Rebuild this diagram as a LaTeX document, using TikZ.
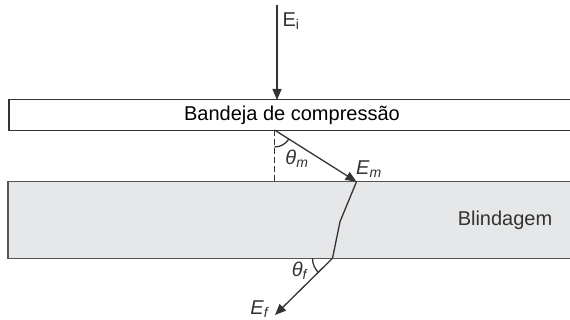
\documentclass[tikz,border=0pt]{standalone}
\usepackage{fontspec}
\setmainfont{Liberation Sans}
\usetikzlibrary{arrows.meta,positioning,backgrounds}
\definecolor{inkgray}{HTML}{333333}
\definecolor{shieldgray}{HTML}{E6E7E9}
\definecolor{shieldedge}{HTML}{555555}

\begin{document}
\begin{tikzpicture}[
    x=1pt, y=1pt,
    tray/.style={
        rectangle,
        draw=inkgray,
        fill=white,
        line width=1.1pt,
        minimum width=566pt,
        minimum height=30.5pt,
        inner sep=0pt,
        font=\fontsize{20}{24}\selectfont
    },
    shield/.style={
        rectangle,
        draw=shieldedge,
        fill=shieldgray,
        line width=1.5pt,
        minimum width=567pt,
        minimum height=76.6pt,
        inner sep=0pt
    },
    label/.style={
        inner sep=0pt,
        text=inkgray,
        font=\fontsize{20}{24}\selectfont
    },
    ray/.style={
        -{Triangle[length=11pt,width=9pt]},
        line width=1.3pt,
        draw=inkgray
    },
    path/.style={
        line width=1.3pt,
        draw=inkgray
    }
]
    \useasboundingbox (0,0) rectangle (570,320);

    % Nodes
    \node (tray)   [tray]   at (292,205)   {Bandeja de compressão};
    \node (shield) [shield] at (291.5,100) {};
    \node (blind)  [label]  at (505,100)   {Blindagem};

    \coordinate (src)   at (277,315);
    \coordinate (top)   at (277,220);
    \coordinate (hit)   at (274.5,190);
    \coordinate (foot)  at (274.5,138.3);
    \coordinate (entry) at (356.5,138.3);
    \coordinate (kink)  at (340,98.3);
    \coordinate (exit)  at (332.5,61.7);
    \coordinate (out)   at (275,5);

    \node (ei)     [label] at (291,299) {E\textsubscript{i}};
    \node (em)     [label] at (369,151) {\textit{E}\textsubscript{\textit{m}}};
    \node (ef)     [label] at (260,11)  {\textit{E}\textsubscript{\textit{f}}};
    \node (thetam) [label] at (297,161) {\textit{θ}\textsubscript{\textit{m}}};
    \node (thetaf) [label] at (300,49)  {\textit{θ}\textsubscript{\textit{f}}};

    % Arrows
    \draw [ray]  (src) -- (top);
    \draw [path, dash pattern=on 6pt off 3pt, line width=1pt] (hit) -- (foot);
    \draw [ray]  (hit) -- (entry);
    \draw [path] (entry) -- (kink) -- (exit);
    \draw [ray]  (exit) -- (out);

    % Angles
    \draw [path] ([shift={(270:17)}]hit) arc[start angle=270, end angle=327.8, radius=17];
    \draw [path] ([shift={(180:20)}]exit) arc[start angle=180, end angle=224.6, radius=20];

\end{tikzpicture}
\end{document}
